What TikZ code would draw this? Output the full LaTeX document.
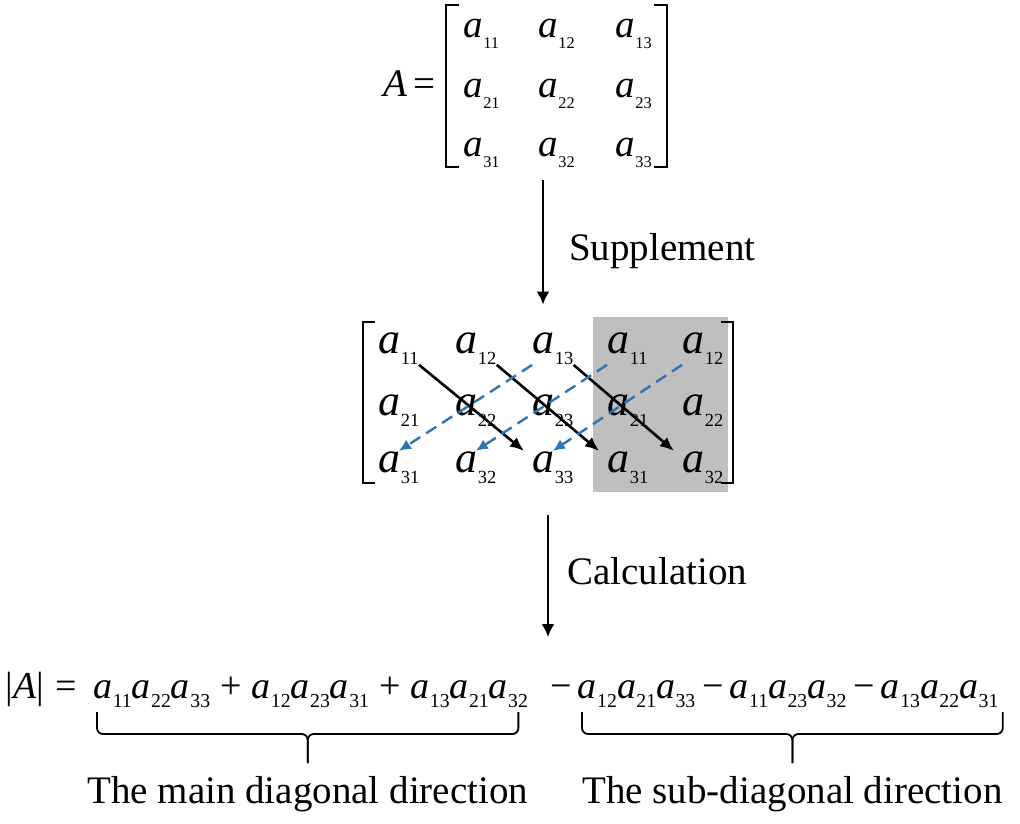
\documentclass[tikz,border=0pt]{standalone}
\usepackage{fontspec}
\setmainfont{Liberation Serif}
\usetikzlibrary{arrows.meta, positioning, calc}

\definecolor{subblue}{RGB}{46,117,182}
\definecolor{supgray}{RGB}{191,191,191}

% matrix element a_{ij}: italic a with a small lowered index
\newcommand{\aij}[2][0.42]{\textit{a}\kern0.2pt\raisebox{-0.26em}{\scalebox{#1}{#2}}}

\tikzset{
  entry/.style={inner sep=0, anchor=base west},
  topfont/.style={font=\fontsize{19.5}{23}\selectfont},
  midfont/.style={font=\fontsize{22}{26}\selectfont},
  eqfont/.style={font=\fontsize{19}{23}\selectfont},
  labeltext/.style={inner sep=0, font=\fontsize{19.5}{23}\selectfont},
  bracket/.style={line width=1pt},
  flow/.style={-{Latex[length=6.5pt, width=6.5pt]}, line width=1.3pt},
  mainarrow/.style={-{Latex[length=7pt, width=6pt]}, line width=1.3pt},
  subarrow/.style={-{Latex[length=6pt, width=5.5pt]}, line width=1.2pt, subblue, dash pattern=on 6pt off 3.5pt},
  bracepath/.style={line width=0.9pt, rounded corners=3pt}
}

\begin{document}
\begin{tikzpicture}[x=0.5pt, y=-0.5pt]
\useasboundingbox (0,0) rectangle (1020,823);

% the matrix A
\node[entry, topfont] (lhsA) at (383,97) {\textit{A}\,=};
\node[inner sep=0, minimum width=110.5pt, minimum height=81pt] (topm) at (556.5,86) {};
\foreach \r/\y in {1/38, 2/98, 3/157}
  \foreach \c/\x in {1/463, 2/538, 3/615}
    \node[entry, topfont] (t-\r-\c) at (\x,\y) {\aij{\r\c}};
\draw[bracket] ([xshift=6.5pt]topm.north west) -- (topm.north west) -- (topm.south west) -- ([xshift=6.5pt]topm.south west);
\draw[bracket] ([xshift=-6.5pt]topm.north east) -- (topm.north east) -- (topm.south east) -- ([xshift=-6.5pt]topm.south east);

% supplemented matrix
\node[fill=supgray, inner sep=0, minimum width=67.5pt, minimum height=87.5pt] (supbox) at (660.5,404.5) {};
\node[inner sep=0, minimum width=185pt, minimum height=80.5pt] (midm) at (548,402.5) {};
\foreach \r/\y in {1/353, 2/415, 3/472}
  \foreach \c/\x/\k in {1/378/1, 2/455/2, 3/532/3, 4/607/1, 5/682/2}
    \node[entry, midfont] (m-\r-\c) at (\x,\y) {\aij{\r\k}};
\draw[bracket] ([xshift=6pt]midm.north west) -- (midm.north west) -- (midm.south west) -- ([xshift=6pt]midm.south west);
\draw[bracket] ([xshift=-6pt]midm.north east) -- (midm.north east) -- (midm.south east) -- ([xshift=-6pt]midm.south east);

\foreach \s/\e in {1/3, 2/4, 3/5}
  \draw[mainarrow] (m-1-\s.south east) -- ([xshift=-4pt]m-3-\e.north west);
\foreach \s/\e in {3/1, 4/2, 5/3}
  \draw[subarrow] (m-1-\s.south west) -- (m-3-\e.north);

% determinant
\node[entry, eqfont] (detA) at (5,698) {|\textit{A}|\hspace{0.3em}=};
\node[entry, eqfont] (main) at (93,698) {\aij[0.52]{11}\aij[0.52]{22}\aij[0.52]{33}\hspace{5pt}+\hspace{5pt}\aij[0.52]{12}\aij[0.52]{23}\aij[0.52]{31}\hspace{5pt}+\hspace{5pt}\aij[0.52]{13}\aij[0.52]{21}\aij[0.52]{32}};
\node[entry, eqfont] (subd) at (550,698) {−\hspace{3pt}\aij[0.52]{12}\aij[0.52]{21}\aij[0.52]{33}\hspace{3.5pt}−\hspace{3pt}\aij[0.52]{11}\aij[0.52]{23}\aij[0.52]{32}\hspace{3.5pt}−\hspace{3pt}\aij[0.52]{13}\aij[0.52]{22}\aij[0.52]{31}};

% steps
\draw[flow] ([xshift=-2.5pt, yshift=-6.5pt]midm.north |- topm.south) -- node[pos=0.57, right=12.5pt, labeltext] (supp) {Supplement} ([xshift=-2.5pt, yshift=8.5pt]midm.north);
\draw[flow] ([yshift=-16pt]midm.south) -- node[pos=0.46, right=9pt, labeltext] (calc) {Calculation} ([yshift=19.5pt]midm.south |- main.north);

% braces
\coordinate (bl1) at ([xshift=2pt, yshift=-7pt]main.base west);
\coordinate (br1) at ([xshift=-5pt, yshift=-7pt]main.base east);
\coordinate (bm1) at ($(bl1)!0.5!(br1)+(0,22)$);
\coordinate (bt1) at ($(bm1)+(0,29)$);
\draw[bracepath] (bl1) |- (bm1) -- (bt1);
\draw[bracepath] (br1) |- (bm1) -- (bt1);
\node[labeltext, below=6.5pt of bt1] (mainlab) {The main diagonal direction};

\coordinate (bl2) at ([xshift=16pt, yshift=-7pt]subd.base west);
\coordinate (br2) at ([xshift=2pt, yshift=-7pt]subd.base east);
\coordinate (bm2) at ($(bl2)!0.5!(br2)+(0,22)$);
\coordinate (bt2) at ($(bm2)+(0,29)$);
\draw[bracepath] (bl2) |- (bm2) -- (bt2);
\draw[bracepath] (br2) |- (bm2) -- (bt2);
\node[labeltext, below=6.5pt of bt2] (sublab) {The sub-diagonal direction};
\end{tikzpicture}
\end{document}
